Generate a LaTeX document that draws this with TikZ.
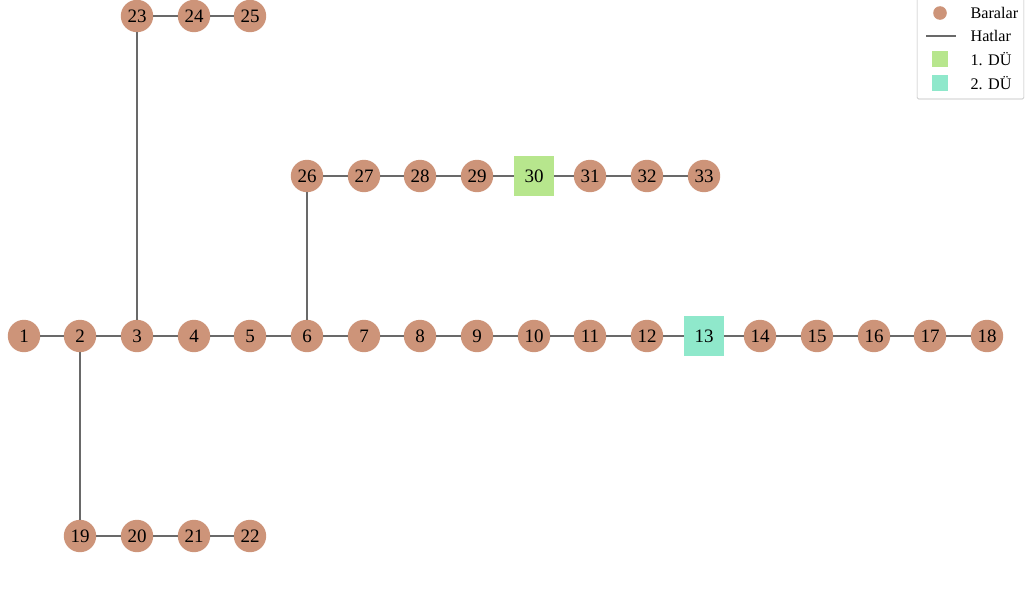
\documentclass[tikz,border=0pt]{standalone}
\usepackage{fontspec}
\setmainfont{Liberation Serif}
\usetikzlibrary{positioning}
\definecolor{busclr}{RGB}{205,148,121}
\definecolor{dgone}{RGB}{183,230,141}
\definecolor{dgtwo}{RGB}{143,232,203}
\definecolor{lineclr}{RGB}{105,105,105}
\tikzstyle{Bus} = [circle, fill=busclr, minimum size=0.81cm, inner sep=0pt, font=\fontsize{13.5}{15}\selectfont]
\tikzstyle{DG} = [rectangle, minimum size=0.98cm, inner sep=0pt, font=\fontsize{13.5}{15}\selectfont]
\tikzstyle{Line} = [draw=lineclr, line width=0.9pt]
\tikzstyle{Key} = [anchor=west, inner sep=0pt, font=\fontsize{11.5}{13}\selectfont]

\begin{document}
\begin{tikzpicture}[x=0.025cm, y=-0.025cm]
   \useasboundingbox (0,0) rectangle (1027,599);
   % main feeder
   \node [Bus] (b1) at (24,336) {1};
   \node [Bus] (b2) at (80,336) {2};
   \node [Bus] (b3) at (137,336) {3};
   \node [Bus] (b4) at (194,336) {4};
   \node [Bus] (b5) at (250,336) {5};
   \node [Bus] (b6) at (307,336) {6};
   \node [Bus] (b7) at (364,336) {7};
   \node [Bus] (b8) at (420,336) {8};
   \node [Bus] (b9) at (477,336) {9};
   \node [Bus] (b10) at (534,336) {10};
   \node [Bus] (b11) at (590,336) {11};
   \node [Bus] (b12) at (647,336) {12};
   \node [DG, fill=dgtwo] (b13) at (704,336) {13};
   \node [Bus] (b14) at (760,336) {14};
   \node [Bus] (b15) at (817,336) {15};
   \node [Bus] (b16) at (874,336) {16};
   \node [Bus] (b17) at (930,336) {17};
   \node [Bus] (b18) at (987,336) {18};
   % laterals
   \node [Bus] (b19) at (80,536) {19};
   \node [Bus] (b20) at (137,536) {20};
   \node [Bus] (b21) at (194,536) {21};
   \node [Bus] (b22) at (250,536) {22};
   \node [Bus] (b23) at (137,16) {23};
   \node [Bus] (b24) at (194,16) {24};
   \node [Bus] (b25) at (250,16) {25};
   \node [Bus] (b26) at (307,176) {26};
   \node [Bus] (b27) at (364,176) {27};
   \node [Bus] (b28) at (420,176) {28};
   \node [Bus] (b29) at (477,176) {29};
   \node [DG, fill=dgone] (b30) at (534,176) {30};
   \node [Bus] (b31) at (590,176) {31};
   \node [Bus] (b32) at (647,176) {32};
   \node [Bus] (b33) at (704,176) {33};

   \draw [Line] (b1) -- (b2);
   \draw [Line] (b2) -- (b3);
   \draw [Line] (b3) -- (b4);
   \draw [Line] (b4) -- (b5);
   \draw [Line] (b5) -- (b6);
   \draw [Line] (b6) -- (b7);
   \draw [Line] (b7) -- (b8);
   \draw [Line] (b8) -- (b9);
   \draw [Line] (b9) -- (b10);
   \draw [Line] (b10) -- (b11);
   \draw [Line] (b11) -- (b12);
   \draw [Line] (b12) -- (b13);
   \draw [Line] (b13) -- (b14);
   \draw [Line] (b14) -- (b15);
   \draw [Line] (b15) -- (b16);
   \draw [Line] (b16) -- (b17);
   \draw [Line] (b17) -- (b18);
   \draw [Line] (b2) -- (b19);
   \draw [Line] (b19) -- (b20);
   \draw [Line] (b20) -- (b21);
   \draw [Line] (b21) -- (b22);
   \draw [Line] (b3) -- (b23);
   \draw [Line] (b23) -- (b24);
   \draw [Line] (b24) -- (b25);
   \draw [Line] (b6) -- (b26);
   \draw [Line] (b26) -- (b27);
   \draw [Line] (b27) -- (b28);
   \draw [Line] (b28) -- (b29);
   \draw [Line] (b29) -- (b30);
   \draw [Line] (b30) -- (b31);
   \draw [Line] (b31) -- (b32);
   \draw [Line] (b32) -- (b33);

   % legend
   \node [draw=gray!55, rounded corners=1pt, minimum width=2.67cm, minimum height=2.55cm, inner sep=0pt] (leg) at (970.5,48) {};
   \node [circle, fill=busclr, minimum size=0.34cm, inner sep=0pt] (k1) at (940,13) {};
   \coordinate (k2a) at (926,36);
   \coordinate (k2b) at (956,36);
   \draw [Line] (k2a) -- (k2b);
   \node [fill=dgone, minimum size=0.4cm, inner sep=0pt] (k3) at (940,59) {};
   \node [fill=dgtwo, minimum size=0.4cm, inner sep=0pt] (k4) at (940,83) {};
   \node [Key, right=0.58cm of k1] (t1) {Baralar};
   \node [Key] (t2) at (t1.west |- k2b) {Hatlar};
   \node [Key] (t3) at (t1.west |- k3) {1. DÜ};
   \node [Key] (t4) at (t1.west |- k4) {2. DÜ};
\end{tikzpicture}
\end{document}
